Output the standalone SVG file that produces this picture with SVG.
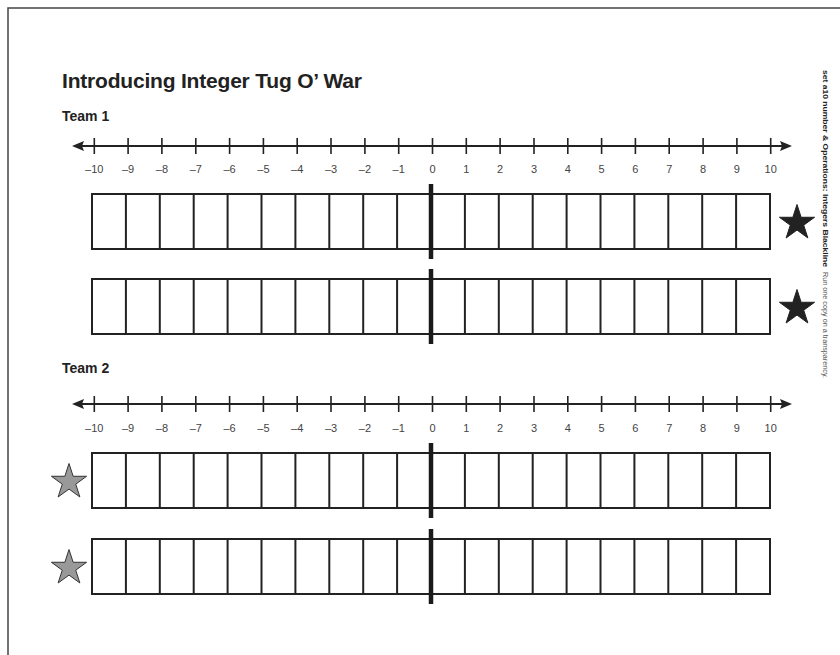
<svg xmlns="http://www.w3.org/2000/svg" xmlns:xlink="http://www.w3.org/1999/xlink" width="840" height="655" viewBox="0 0 840 655">
<style>
.frame{fill:none;stroke:#444;stroke-width:1.5}
.title{font-family:"Liberation Sans",Arial,sans-serif;font-weight:bold;font-size:21px;fill:#222}
.team{font-family:"Liberation Sans",Arial,sans-serif;font-weight:bold;font-size:14px;fill:#222}
.num{font-family:"Liberation Sans",Arial,sans-serif;font-size:11px;fill:#444;text-anchor:middle}
.axis{stroke:#222;stroke-width:2;fill:none}
.tick{stroke:#222;stroke-width:1.6}
.cell{fill:#fff;stroke:#222;stroke-width:2}
.div{stroke:#222;stroke-width:2}
.zero{stroke:#1a1a1a;stroke-width:4.5}
.side1{font-family:"Liberation Sans",Arial,sans-serif;font-weight:bold;font-size:7.5px;fill:#222}
.side2{font-family:"Liberation Sans",Arial,sans-serif;font-size:7px;fill:#555}
.starB{fill:#222;stroke:#222;stroke-width:1}
.starG{fill:#999;stroke:#333;stroke-width:1}
</style>
<defs>
<path id="star" d="M0,-18.5 L4.15,-5.72 L17.6,-5.72 L6.72,2.18 L10.87,14.97 L0,7.07 L-10.87,14.97 L-6.72,2.18 L-17.6,-5.72 L-4.15,-5.72 Z"/>
<g id="ticks">
<path class="tick" d="M94.3,-8V8M128.1,-8V8M161.9,-8V8M195.8,-8V8M229.6,-8V8M263.4,-8V8M297.2,-8V8M331,-8V8M364.9,-8V8M398.7,-8V8M432.5,-8V8M466.3,-8V8M500.1,-8V8M534,-8V8M567.8,-8V8M601.6,-8V8M635.4,-8V8M669.2,-8V8M703.1,-8V8M736.9,-8V8M770.7,-8V8"/>
<path class="axis" d="M78,0H786"/>
<path fill="#222" d="M792,0L780,-5L782,0L780,5Z"/>
<path fill="#222" d="M72,0L84,-5L82,0L84,5Z"/>
</g>
<g id="row">
<rect class="cell" x="92" y="0" width="678" height="55"/>
<path class="div" d="M125.9,0V55M159.8,0V55M193.7,0V55M227.6,0V55M261.5,0V55M295.4,0V55M329.3,0V55M363.2,0V55M397.1,0V55M464.9,0V55M498.8,0V55M532.7,0V55M566.6,0V55M600.5,0V55M634.4,0V55M668.3,0V55M702.2,0V55M736.1,0V55"/>
<path class="zero" d="M431,-10V65"/>
</g>
</defs>

<rect class="frame" x="8" y="8" width="900" height="700"/>

<g id="title">
<text class="title" x="62" y="88" textLength="300" lengthAdjust="spacing">Introducing Integer Tug O’ War</text>
</g>

<g id="sidebar">
<text class="side1" transform="translate(823,70) rotate(90)" x="0" y="0" textLength="197" lengthAdjust="spacingAndGlyphs">set a10 number &amp; Operations: Integers Blackline</text>
<text class="side2" transform="translate(823,272) rotate(90)" x="0" y="0" textLength="106" lengthAdjust="spacingAndGlyphs">Run one copy on a transparency.</text>
</g>

<g id="team1">
<text class="team" x="62" y="121">Team 1</text>
<g id="numberline1">
<use xlink:href="#ticks" transform="translate(0,146)"/>
<text class="num" y="173"><tspan x="94.3">–10</tspan><tspan x="128.1">–9</tspan><tspan x="161.9">–8</tspan><tspan x="195.8">–7</tspan><tspan x="229.6">–6</tspan><tspan x="263.4">–5</tspan><tspan x="297.2">–4</tspan><tspan x="331">–3</tspan><tspan x="364.9">–2</tspan><tspan x="398.7">–1</tspan><tspan x="432.5">0</tspan><tspan x="466.3">1</tspan><tspan x="500.1">2</tspan><tspan x="534">3</tspan><tspan x="567.8">4</tspan><tspan x="601.6">5</tspan><tspan x="635.4">6</tspan><tspan x="669.2">7</tspan><tspan x="703.1">8</tspan><tspan x="736.9">9</tspan><tspan x="770.7">10</tspan></text>
</g>
<g id="row1"><use xlink:href="#row" transform="translate(0,194)"/><use xlink:href="#star" class="starB" transform="translate(797,223)"/></g>
<g id="row2"><use xlink:href="#row" transform="translate(0,279)"/><use xlink:href="#star" class="starB" transform="translate(797,308)"/></g>
</g>

<g id="team2">
<text class="team" x="62" y="373">Team 2</text>
<g id="numberline2">
<use xlink:href="#ticks" transform="translate(0,404)"/>
<text class="num" y="432"><tspan x="94.3">–10</tspan><tspan x="128.1">–9</tspan><tspan x="161.9">–8</tspan><tspan x="195.8">–7</tspan><tspan x="229.6">–6</tspan><tspan x="263.4">–5</tspan><tspan x="297.2">–4</tspan><tspan x="331">–3</tspan><tspan x="364.9">–2</tspan><tspan x="398.7">–1</tspan><tspan x="432.5">0</tspan><tspan x="466.3">1</tspan><tspan x="500.1">2</tspan><tspan x="534">3</tspan><tspan x="567.8">4</tspan><tspan x="601.6">5</tspan><tspan x="635.4">6</tspan><tspan x="669.2">7</tspan><tspan x="703.1">8</tspan><tspan x="736.9">9</tspan><tspan x="770.7">10</tspan></text>
</g>
<g id="row3"><use xlink:href="#row" transform="translate(0,453)"/><use xlink:href="#star" class="starG" transform="translate(69,482)"/></g>
<g id="row4"><use xlink:href="#row" transform="translate(0,539)"/><use xlink:href="#star" class="starG" transform="translate(69,568)"/></g>
</g>
</svg>
